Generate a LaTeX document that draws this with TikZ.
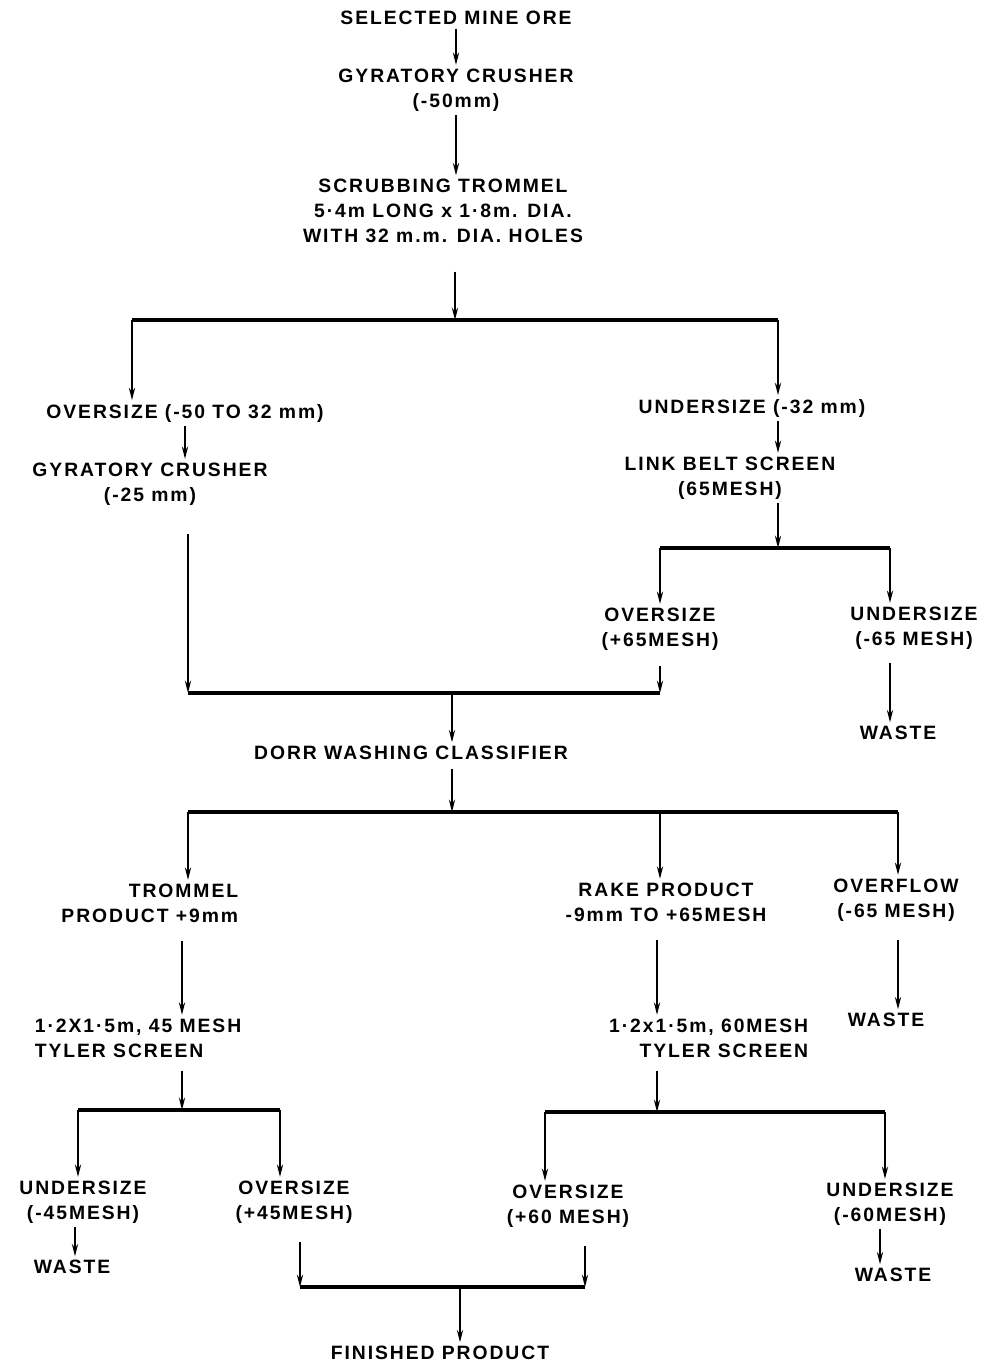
\documentclass[tikz,border=0pt]{standalone}
\usepackage{fontspec}
\setmainfont{Liberation Sans}[LetterSpace=10]
\usepackage{tikz}
\usetikzlibrary{arrows.meta}

\begin{document}
\begin{tikzpicture}[x=0.02cm, y=-0.02cm,
  font=\bfseries\fontsize{11}{14.2}\selectfont,
  every node/.style={align=center, inner sep=2pt},
  flow/.style={line width=1.2pt, -{Stealth[length=7pt, width=3.5pt]}},
  bar/.style={line width=2pt}]
\useasboundingbox (0,0) rectangle (990,1367);
\node (ore) at (456,18) {SELECTED MINE ORE};
\node (crusher) at (456,90) {GYRATORY CRUSHER\\(-50mm)};
\node (trommel) at (443,211) {SCRUBBING TROMMEL\\5·4m LONG x 1·8m. DIA.\\WITH 32 m.m. DIA. HOLES};
\node (over) at (185,413) {OVERSIZE (-50 TO 32 mm)};
\node (crusherb) at (150,484) {GYRATORY CRUSHER\\(-25 mm)};
\node (under) at (752,408) {UNDERSIZE (-32 mm)};
\node (linkbelt) at (730,478) {LINK BELT SCREEN\\(65MESH)};
\node (overb) at (660,629) {OVERSIZE\\(+65MESH)};
\node (underb) at (914,628) {UNDERSIZE\\(-65 MESH)};
\node (wastea) at (898,733) {WASTE};
\node (dorr) at (411,753) {DORR WASHING CLASSIFIER};
\node (trommelp) [align=right, anchor=east] at (242,903) {TROMMEL\\PRODUCT +9mm};
\node (rake) at (666,902) {RAKE PRODUCT\\-9mm TO +65MESH};
\node (overflow) at (896,900) {OVERFLOW\\(-65 MESH)};
\node (wasteb) at (886,1020) {WASTE};
\node (tylera) [align=left, anchor=west] at (31,1038) {1·2X1·5m, 45 MESH\\TYLER SCREEN};
\node (tylerb) [align=right, anchor=east] at (812,1038) {1·2x1·5m, 60MESH\\TYLER SCREEN};
\node (undera) at (83,1202) {UNDERSIZE\\(-45MESH)};
\node (wastec) at (72,1267) {WASTE};
\node (overa) at (294,1202) {OVERSIZE\\(+45MESH)};
\node (overc) at (568,1206) {OVERSIZE\\(+60 MESH)};
\node (underc) at (890,1204) {UNDERSIZE\\(-60MESH)};
\node (wasted) at (893,1275) {WASTE};
\node (finished) at (440,1353) {FINISHED PRODUCT};

\coordinate (ja) at (455,320);
\coordinate (jal) at (132,320);
\coordinate (jar) at (778,320);
\coordinate (jb) at (188,693);
\coordinate (jc) at (660,693);
\coordinate (jd) at (452,693);
\coordinate (je) at (778,548);
\coordinate (jel) at (660,548);
\coordinate (jer) at (890,548);
\coordinate (jf) at (452,812);
\coordinate (jfl) at (188,812);
\coordinate (jfm) at (660,812);
\coordinate (jfr) at (898,812);
\coordinate (jg) at (182,1110);
\coordinate (jgl) at (78,1110);
\coordinate (jgr) at (280,1110);
\coordinate (jh) at (657,1112);
\coordinate (jhl) at (545,1112);
\coordinate (jhr) at (885,1112);
\coordinate (ji) at (460,1287);
\coordinate (jil) at (300,1287);
\coordinate (jir) at (585,1287);

\draw[flow] (ore) -- (crusher);
\draw[flow] (crusher.south) -- (crusher.south |- trommel.north);
\draw[flow] (ja |- trommel.south) ++(0,25) -- (ja);
\draw[bar] (jal) -- (jar);
\draw[flow] (jal) -- (jal |- over.north);
\draw[flow] (jar) -- (jar |- under.north);
\draw[flow] (over.south) -- (over.south |- crusherb.north);
\draw[flow] (jb |- crusherb.south) ++(0,25) -- (jb);
\draw[bar] (jb) -- (jc);
\draw[flow] (overb.south) ++(0,12) -- (jc);
\draw[flow] (jd) -- (jd |- dorr.north);
\draw[flow] (je |- under.south) -- (je |- linkbelt.north);
\draw[flow] (je |- linkbelt.south) -- (je);
\draw[bar] (jel) -- (jer);
\draw[flow] (jel) -- (jel |- overb.north);
\draw[flow] (jer) -- (jer |- underb.north);
\draw[flow] (jer |- underb.south) ++(0,10) -- (jer |- wastea.north);
\draw[flow] (jf |- dorr.south) ++(0,5) -- (jf);
\draw[bar] (jfl) -- (jfr);
\draw[flow] (jfl) -- (jfl |- trommelp.north);
\draw[flow] (jfm) -- (jfm |- rake.north);
\draw[flow] (jfr) -- (jfr |- overflow.north);
\draw[flow] (jg |- trommelp.south) ++(0,15) -- (jg |- tylera.north);
\draw[flow] (jh |- rake.south) ++(0,15) -- (jh |- tylerb.north);
\draw[flow] (jfr |- overflow.south) ++(0,15) -- (jfr |- wasteb.north);
\draw[flow] (jg |- tylera.south) ++(0,10) -- (jg);
\draw[bar] (jgl) -- (jgr);
\draw[flow] (jgl) -- (jgl |- undera.north);
\draw[flow] (jgr) -- (jgr |- overa.north);
\draw[flow] (jh |- tylerb.south) ++(0,10) -- (jh);
\draw[bar] (jhl) -- (jhr);
\draw[flow] (jhl) -- (jhl |- overc.north);
\draw[flow] (jhr) -- (jhr |- underc.north);
\draw[flow] (undera.south -| 75,0) -- (wastec.north -| 75,0);
\draw[flow] (underc.south -| 880,0) -- (wasted.north -| 880,0);
\draw[flow] (jil |- overa.south) ++(0,15) -- (jil);
\draw[flow] (jir |- overc.south) ++(0,15) -- (jir);
\draw[bar] (jil) -- (jir);
\draw[flow] (ji) -- (ji |- finished.north);
\end{tikzpicture}
\end{document}
